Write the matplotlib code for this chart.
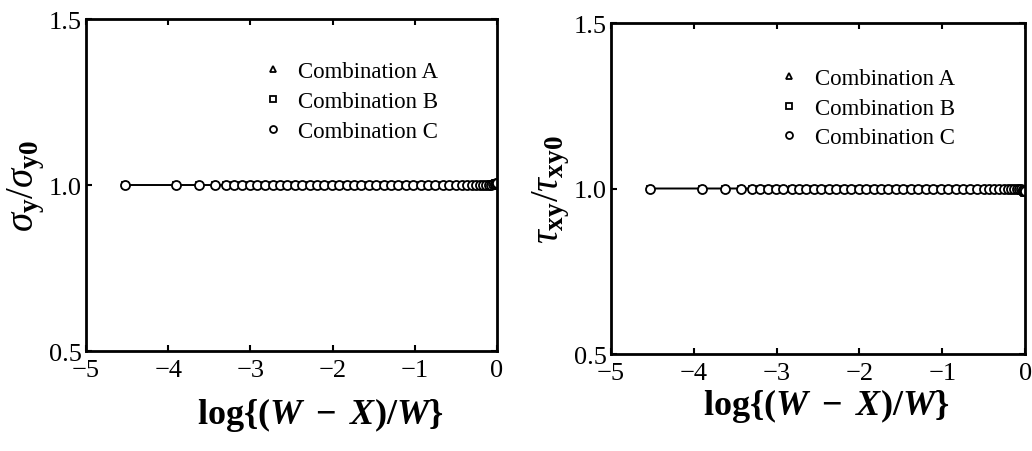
import matplotlib
matplotlib.use('Agg')
import matplotlib.pyplot as plt

# log{(W-X)/W} positions
x_pos = [-4.53, -3.90, -3.62, -3.43, -3.30, -3.20, -3.10, -3.01, -2.92, -2.82,
         -2.73, -2.64, -2.55, -2.46, -2.37, -2.28, -2.19, -2.10, -2.01, -1.92,
         -1.83, -1.74, -1.65, -1.56, -1.47, -1.38, -1.29, -1.20, -1.11, -1.02,
         -0.93, -0.84, -0.75, -0.66, -0.58, -0.50, -0.43, -0.37, -0.31, -0.26,
         -0.21, -0.17, -0.13, -0.10, -0.07, -0.05, -0.03, -0.02, -0.01, 0.0]

n_flat = 40
# sigma_y / sigma_y0
sig_A = [1.0] * n_flat + [1.0, 1.0, 1.001, 1.001, 1.002, 1.003, 1.004, 1.005, 1.006, 1.007]
sig_B = [1.0] * n_flat + [1.0, 1.0, 1.001, 1.001, 1.002, 1.003, 1.004, 1.005, 1.006, 1.007]
sig_C = [1.0] * n_flat + [1.0, 1.0, 1.0, 1.001, 1.001, 1.002, 1.003, 1.004, 1.005, 1.006]
# tau_xy / tau_xy0
tau_A = [1.0] * n_flat + [0.999, 0.999, 0.998, 0.998, 0.997, 0.996, 0.995, 0.994, 0.993, 0.992]
tau_B = [1.0] * n_flat + [0.999, 0.998, 0.997, 0.996, 0.995, 0.993, 0.991, 0.989, 0.987, 0.985]
tau_C = [1.0] * n_flat + [1.0, 0.999, 0.999, 0.998, 0.998, 0.997, 0.996, 0.995, 0.994, 0.993]

labels = ['Combination A', 'Combination B', 'Combination C']
markers = ['^', 's', 'o']

plt.rcParams['font.family'] = ['Liberation Serif', 'DejaVu Serif']
plt.rcParams['mathtext.fontset'] = 'custom'
plt.rcParams['mathtext.rm'] = 'Liberation Serif'
plt.rcParams['mathtext.it'] = 'Liberation Serif:italic'
plt.rcParams['mathtext.bf'] = 'Liberation Serif:bold'
plt.rcParams['mathtext.bfit'] = 'Liberation Serif:bold:italic'

fig = plt.figure(figsize=(10.32, 4.52), dpi=100)
ax1 = fig.add_axes([0.0833, 0.2212, 0.3983, 0.7345])
ax2 = fig.add_axes([0.5921, 0.2146, 0.4012, 0.7323])

xlab = r'$\mathbf{log\{(}\mathbfit{W}\mathbf{\ -\ }\mathbfit{X}\mathbf{)/}\mathbfit{W}\mathbf{\}}$'


def draw(ax, ys, ylab, xlab_pos, ylab_x, leg_anchor):
    for y, m, lab in zip(ys, markers, labels):
        ax.plot(x_pos, y, color='black', lw=1.0, marker=m, ms=6.5 if m == 'o' else 5,
                mfc='white', mec='black', mew=1.3, label=lab)
    ax.set_xlim(-5, 0)
    ax.set_ylim(0.5, 1.5)
    ax.set_xticks([-5, -4, -3, -2, -1, 0])
    ax.set_xticklabels(['\u22125', '\u22124', '\u22123', '\u22122', '\u22121', '0'])
    ax.set_yticks([0.5, 1.0, 1.5])
    ax.set_yticklabels(['0.5', '1.0', '1.5'])
    ax.tick_params(direction='in', length=4, width=1.5, labelsize=19, top=True, right=True, pad=3)
    ax.tick_params(axis='x', pad=6)
    for s in ax.spines.values():
        s.set_linewidth(2)
    ax.set_ylabel(ylab, fontsize=28)
    ax.yaxis.set_label_coords(ylab_x, 0.5)
    ax.yaxis.label.set_va('center')
    ax.set_xlabel(xlab, fontsize=26)
    ax.xaxis.set_label_coords(xlab_pos[0], xlab_pos[1])
    ax.xaxis.label.set_va('center')
    h, l = ax.get_legend_handles_labels()
    leg = ax.legend(h, l, loc='upper left', bbox_to_anchor=leg_anchor, frameon=False,
                    fontsize=16.5, handlelength=0.6, handletextpad=0.8, labelspacing=0.38,
                    borderaxespad=0)
    for lh in leg.legend_handles:
        lh.set_linestyle('none')
        lh.set_markersize(5)


draw(ax1, [sig_A, sig_B, sig_C], r'$\sigma_{\mathbf{y}}/\sigma_{\mathbf{y0}}$',
     (0.57, -0.19), -0.145, (0.415, 0.9))
draw(ax2, [tau_A, tau_B, tau_C], r'$\tau_{\mathbf{xy}}/\tau_{\mathbf{xy0}}$',
     (0.52, -0.155), -0.145, (0.392, 0.892))

fig.savefig('out.png', dpi=100)
